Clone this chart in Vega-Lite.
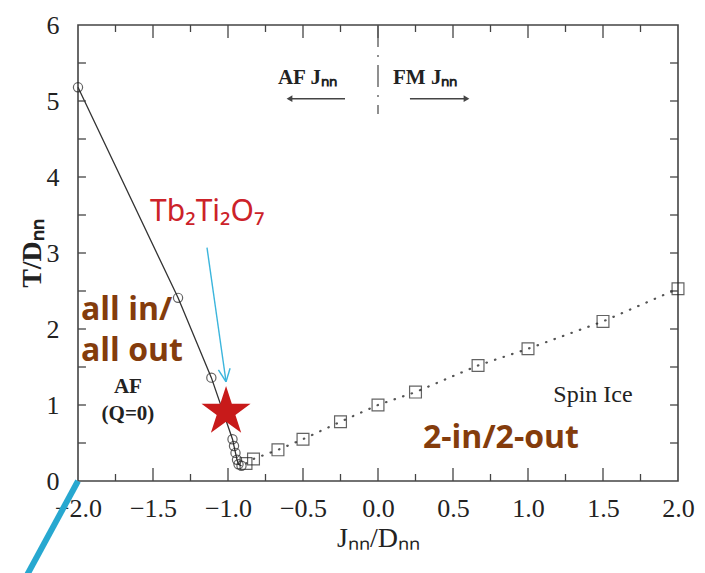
{
  "$schema": "https://vega.github.io/schema/vega-lite/v6.json",
  "width": 600,
  "height": 456,
  "autosize": {"type": "none"},
  "padding": {"left": 78, "top": 25, "right": 27, "bottom": 92},
  "background": "white",
  "config": {
    "view": {"stroke": "#444", "strokeWidth": 1.6},
    "axis": {
      "grid": false,
      "domain": false,
      "ticks": false,
      "labelFont": "Liberation Serif",
      "labelFontSize": 26,
      "labelColor": "#222",
      "titleFont": "Liberation Serif",
      "titleColor": "#222"
    }
  },
  "datasets": {
    "circles": [
      {"J": -2.0, "T": 5.18},
      {"J": -1.333, "T": 2.41},
      {"J": -1.111, "T": 1.36},
      {"J": -0.97, "T": 0.55},
      {"J": -0.96, "T": 0.46},
      {"J": -0.95, "T": 0.37},
      {"J": -0.94, "T": 0.28},
      {"J": -0.93, "T": 0.22},
      {"J": -0.91, "T": 0.2}
    ],
    "squares": [
      {"J": -0.88, "T": 0.23},
      {"J": -0.83, "T": 0.29},
      {"J": -0.667, "T": 0.41},
      {"J": -0.5, "T": 0.55},
      {"J": -0.25, "T": 0.78},
      {"J": 0.0, "T": 1.0},
      {"J": 0.25, "T": 1.17},
      {"J": 0.667, "T": 1.52},
      {"J": 1.0, "T": 1.74},
      {"J": 1.5, "T": 2.1},
      {"J": 2.0, "T": 2.53}
    ],
    "xMajor": [{"J": -1.5}, {"J": -1.0}, {"J": -0.5}, {"J": 0.0}, {"J": 0.5}, {"J": 1.0}, {"J": 1.5}],
    "xMinor": [{"J": -1.75}, {"J": -1.25}, {"J": -0.75}, {"J": -0.25}, {"J": 0.25}, {"J": 0.75}, {"J": 1.25}, {"J": 1.75}],
    "yTicks": [{"T": 0.5}, {"T": 1.0}, {"T": 1.5}, {"T": 2.0}, {"T": 2.5}, {"T": 3.0}, {"T": 3.5}, {"T": 4.0}, {"T": 4.5}, {"T": 5.0}, {"T": 5.5}],
    "starPoint": [{"J": -1.013, "T": 0.91}],
    "divider": [{"J": 0, "T": 6, "T2": 4.83}],
    "arrows": [
      {"J": -0.22, "J2": -0.58, "T": 5.03},
      {"J": 0.213, "J2": 0.58, "T": 5.03}
    ],
    "headLeft": [{"J": -0.59, "T": 5.03}],
    "headRight": [{"J": 0.59, "T": 5.03}],
    "jnnNotes": [
      {"J": -0.667, "T": 5.22, "text": "AF   Jₙₙ"},
      {"J": 0.1, "T": 5.22, "text": "FM   Jₙₙ"}
    ],
    "afNotes": [
      {"J": -1.667, "T": 1.16, "text": "AF"},
      {"J": -1.667, "T": 0.8, "text": "(Q=0)"}
    ],
    "spinIce": [{"J": 1.433, "T": 1.04, "text": "Spin  Ice"}],
    "tbLabel": [{"J": -1.52, "T": 3.42, "text": "Tb₂Ti₂O₇"}],
    "brown": [
      {"J": -1.98, "T": 2.12, "text": "all in/"},
      {"J": -1.98, "T": 1.58, "text": "all out"},
      {"J": 0.3, "T": 0.435, "text": "2-in/2-out"}
    ],
    "cyanSegs": [
      {"J": -1.14, "T": 3.07, "J2": -1.013, "T2": 1.306},
      {"J": -0.986, "T": 1.483, "J2": -1.013, "T2": 1.306},
      {"J": -1.064, "T": 1.461, "J2": -1.013, "T2": 1.306}
    ],
    "thickSeg": [
      {"J": -2.0, "T": 0.0, "J2": -2.4, "T2": -1.457}
    ]
  },
  "layer": [
    {
      "data": {"name": "circles"},
      "mark": {"type": "line", "color": "#333", "strokeWidth": 1.3},
      "encoding": {
        "x": {"field": "J", "type": "quantitative", "scale": {"domain": [-2, 2], "nice": false, "zero": false},
          "axis": {"orient": "bottom", "values": [-2, -1.5, -1, -0.5, 0, 0.5, 1, 1.5, 2], "format": ".1f",
            "labelPadding": 14, "labelFlush": false, "labelOverlap": false,
            "title": "Jₙₙ/Dₙₙ", "titleFontSize": 28, "titleFontWeight": "normal", "titlePadding": 3}},
        "y": {"field": "T", "type": "quantitative", "scale": {"domain": [0, 6], "nice": false, "zero": false},
          "axis": {"orient": "left", "values": [0, 1, 2, 3, 4, 5, 6], "format": "d",
            "labelPadding": 19, "labelFlush": false, "labelOverlap": false,
            "title": "T/Dₙₙ", "titleFontSize": 28, "titleFontWeight": "bold", "titlePadding": 0}}
      }
    },
    {
      "data": {"name": "xMajor"},
      "mark": {"type": "rule", "color": "#444", "strokeWidth": 1.3},
      "encoding": {"x": {"field": "J", "type": "quantitative"}, "y": {"datum": 0, "type": "quantitative"}, "y2": {"datum": 0.17}}
    },
    {
      "data": {"name": "xMajor"},
      "mark": {"type": "rule", "color": "#444", "strokeWidth": 1.3},
      "encoding": {"x": {"field": "J", "type": "quantitative"}, "y": {"datum": 6, "type": "quantitative"}, "y2": {"datum": 5.83}}
    },
    {
      "data": {"name": "xMinor"},
      "mark": {"type": "rule", "color": "#444", "strokeWidth": 1.3},
      "encoding": {"x": {"field": "J", "type": "quantitative"}, "y": {"datum": 0, "type": "quantitative"}, "y2": {"datum": 0.092}}
    },
    {
      "data": {"name": "xMinor"},
      "mark": {"type": "rule", "color": "#444", "strokeWidth": 1.3},
      "encoding": {"x": {"field": "J", "type": "quantitative"}, "y": {"datum": 6, "type": "quantitative"}, "y2": {"datum": 5.908}}
    },
    {
      "data": {"name": "yTicks"},
      "mark": {"type": "rule", "color": "#444", "strokeWidth": 1.3},
      "encoding": {"y": {"field": "T", "type": "quantitative"}, "x": {"datum": -2, "type": "quantitative"}, "x2": {"datum": -1.947}}
    },
    {
      "data": {"name": "yTicks"},
      "mark": {"type": "rule", "color": "#444", "strokeWidth": 1.3},
      "encoding": {"y": {"field": "T", "type": "quantitative"}, "x": {"datum": 2, "type": "quantitative"}, "x2": {"datum": 1.947}}
    },
    {
      "data": {"name": "circles"},
      "mark": {"type": "point", "shape": "circle", "filled": false, "stroke": "#222", "strokeWidth": 1.2, "size": 85},
      "encoding": {"x": {"field": "J", "type": "quantitative"}, "y": {"field": "T", "type": "quantitative"}}
    },
    {
      "data": {"name": "squares"},
      "mark": {"type": "line", "color": "#555", "strokeWidth": 2.2, "strokeDash": [0.5, 8.5], "strokeCap": "round"},
      "encoding": {"x": {"field": "J", "type": "quantitative"}, "y": {"field": "T", "type": "quantitative"}}
    },
    {
      "data": {"name": "squares"},
      "mark": {"type": "point", "shape": "square", "filled": false, "stroke": "#222", "strokeWidth": 1.2, "size": 140},
      "encoding": {"x": {"field": "J", "type": "quantitative"}, "y": {"field": "T", "type": "quantitative"}}
    },
    {
      "data": {"name": "divider"},
      "mark": {"type": "rule", "color": "#555", "strokeWidth": 1.3, "strokeDash": [22, 8, 2, 8]},
      "encoding": {"x": {"field": "J", "type": "quantitative"}, "y": {"field": "T", "type": "quantitative"}, "y2": {"field": "T2"}}
    },
    {
      "data": {"name": "arrows"},
      "mark": {"type": "rule", "color": "#444", "strokeWidth": 1.5},
      "encoding": {"x": {"field": "J", "type": "quantitative"}, "x2": {"field": "J2"}, "y": {"field": "T", "type": "quantitative"}}
    },
    {
      "data": {"name": "headLeft"},
      "mark": {"type": "point", "shape": "triangle-left", "filled": true, "color": "#444", "size": 45, "opacity": 1},
      "encoding": {"x": {"field": "J", "type": "quantitative"}, "y": {"field": "T", "type": "quantitative"}}
    },
    {
      "data": {"name": "headRight"},
      "mark": {"type": "point", "shape": "triangle-right", "filled": true, "color": "#444", "size": 45, "opacity": 1},
      "encoding": {"x": {"field": "J", "type": "quantitative"}, "y": {"field": "T", "type": "quantitative"}}
    },
    {
      "data": {"name": "jnnNotes"},
      "mark": {"type": "text", "font": "Liberation Serif", "fontSize": 21, "fontWeight": "bold", "align": "left", "baseline": "alphabetic", "color": "#222"},
      "encoding": {"x": {"field": "J", "type": "quantitative"}, "y": {"field": "T", "type": "quantitative"}, "text": {"field": "text"}}
    },
    {
      "data": {"name": "afNotes"},
      "mark": {"type": "text", "font": "Liberation Serif", "fontSize": 21, "fontWeight": "bold", "align": "center", "baseline": "alphabetic", "color": "#222"},
      "encoding": {"x": {"field": "J", "type": "quantitative"}, "y": {"field": "T", "type": "quantitative"}, "text": {"field": "text"}}
    },
    {
      "data": {"name": "spinIce"},
      "mark": {"type": "text", "font": "Liberation Serif", "fontSize": 24, "align": "center", "baseline": "alphabetic", "color": "#222"},
      "encoding": {"x": {"field": "J", "type": "quantitative"}, "y": {"field": "T", "type": "quantitative"}, "text": {"field": "text"}}
    },
    {
      "data": {"name": "brown"},
      "mark": {"type": "text", "font": "Open Sans", "fontSize": 32, "fontWeight": "bold", "align": "left", "baseline": "alphabetic", "color": "#843c0c"},
      "encoding": {"x": {"field": "J", "type": "quantitative"}, "y": {"field": "T", "type": "quantitative"}, "text": {"field": "text"}}
    },
    {
      "data": {"name": "starPoint"},
      "mark": {"type": "point", "shape": "M0,-1L0.2245,-0.309L0.9511,-0.309L0.3633,0.118L0.5878,0.809L0,0.382L-0.5878,0.809L-0.3633,0.118L-0.9511,-0.309L-0.2245,-0.309Z", "filled": true, "color": "#c81a1a", "size": 2660, "opacity": 1},
      "encoding": {"x": {"field": "J", "type": "quantitative"}, "y": {"field": "T", "type": "quantitative"}}
    },
    {
      "data": {"name": "tbLabel"},
      "mark": {"type": "text", "font": "Noto Sans", "fontSize": 30, "align": "left", "baseline": "alphabetic", "color": "#cc2229"},
      "encoding": {"x": {"field": "J", "type": "quantitative"}, "y": {"field": "T", "type": "quantitative"}, "text": {"field": "text"}}
    },
    {
      "data": {"name": "cyanSegs"},
      "mark": {"type": "rule", "color": "#3bb5dc", "strokeWidth": 1.4},
      "encoding": {"x": {"field": "J", "type": "quantitative"}, "y": {"field": "T", "type": "quantitative"}, "x2": {"field": "J2"}, "y2": {"field": "T2"}}
    },
    {
      "data": {"name": "thickSeg"},
      "mark": {"type": "rule", "color": "#27a8d0", "strokeWidth": 6},
      "encoding": {"x": {"field": "J", "type": "quantitative"}, "y": {"field": "T", "type": "quantitative"}, "x2": {"field": "J2"}, "y2": {"field": "T2"}}
    }
  ]
}
